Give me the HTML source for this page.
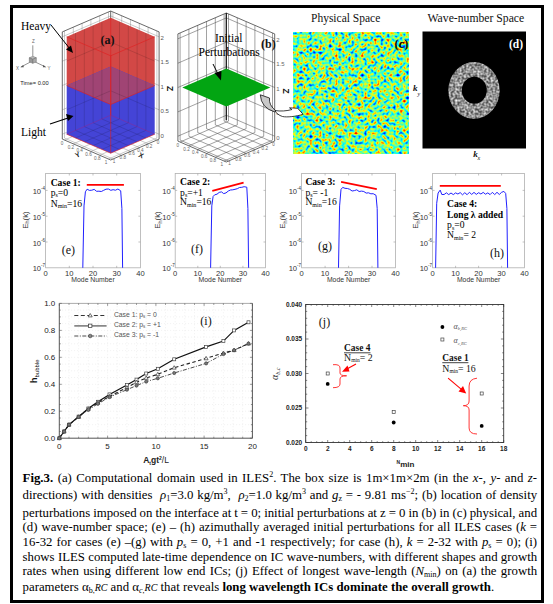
<!DOCTYPE html>
<html><head><meta charset="utf-8">
<style>
html,body{margin:0;padding:0;background:#fff;}
body{width:553px;height:604px;position:relative;overflow:hidden;font-family:"Liberation Serif",serif;}
#frame{position:absolute;left:10px;top:5px;width:534px;height:598px;border:3px solid #000;box-sizing:border-box;}
svg{position:absolute;left:0;top:0;}
.cap{position:absolute;left:22.6px;width:514.5px;font-size:12.8px;word-spacing:-1px;line-height:15px;height:15px;color:#000;text-align:justify;text-align-last:justify;white-space:nowrap;}
.cap i{font-style:italic;}
.cap sup{font-size:8px;vertical-align:5px;line-height:0;}
.cap sub{font-size:8px;vertical-align:-2px;line-height:0;}
</style></head><body>
<div id="frame"></div>
<svg width="553" height="604" viewBox="0 0 553 604">
<path d="M108.5 119.1L108.5 12M112.9 119.1L112.9 12M99.7 122.9L99.7 15.8M121.7 122.9L121.7 15.8M90.9 126.7L90.9 19.6M130.5 126.7L130.5 19.6M82.1 130.5L82.1 23.4M139.3 130.5L139.3 23.4M73.3 134.3L73.3 27.2M148.1 134.3L148.1 27.2M64.5 138.1L64.5 31M156.9 138.1L156.9 31M62.3 134.2L110.7 113.3L159.1 134.2M62.3 109.9L110.7 88.9L159.1 109.8M62.3 85.5L110.7 64.6L159.1 85.5M62.3 61.2L110.7 40.2L159.1 61.1M62.3 36.8L110.7 15.9L159.1 36.8M108.5 119.1L156.9 140M112.9 119.1L64.5 140M99.7 122.9L148.1 143.8M121.7 122.9L73.3 143.8M90.9 126.7L139.3 147.6M130.5 126.7L82.1 147.6M82.1 130.5L130.5 151.4M139.3 130.5L90.9 151.4M73.3 134.3L121.7 155.2M148.1 134.3L99.7 155.2M64.5 138.1L112.9 159M156.9 138.1L108.5 159" stroke="#888" stroke-width="0.45" fill="none"/>
<polyline points="62.3,31.9 110.7,11 159.1,31.9 159.1,139.1 110.7,160 62.3,139.1 62.3,31.9" stroke="#444" stroke-width="0.8" fill="none"/>
<line x1="110.7" y1="118.2" x2="110.7" y2="11" stroke="#444" stroke-width="0.8"/>
<polygon points="66.7,36.8 110.7,17.8 154.7,36.8 154.7,85.5 110.7,104.5 66.7,85.5" fill="#d24846"/>
<polygon points="66.7,85.5 110.7,66.5 154.7,85.5 154.7,134.2 110.7,153.2 66.7,134.2" fill="#4444d6"/>
<polygon points="66.7,85.5 110.7,66.5 154.7,85.5 110.7,104.5" fill="#a04474"/>
<path d="M101.9 119L101.9 21.6M119.5 119L119.5 21.6M93.1 122.8L93.1 25.4M128.3 122.8L128.3 25.4M84.3 126.6L84.3 29.2M137.1 126.6L137.1 29.2M75.5 130.4L75.5 33M145.9 130.4L145.9 33M66.7 109.8L110.7 90.8L154.7 109.8M66.7 61.1L110.7 42.1L154.7 61.1M101.9 119L145.9 138M119.5 119L75.5 138M93.1 122.8L137.1 141.8M128.3 122.8L84.3 141.8M84.3 126.6L128.3 145.6M137.1 126.6L93.1 145.6M75.5 130.4L119.5 149.4M145.9 130.4L101.9 149.4" stroke="#000" stroke-opacity="0.22" stroke-width="0.6" fill="none"/>
<path d="M110.7 115.2L110.7 17.8M66.7 36.8L110.7 55.8M110.7 55.8L154.7 36.8M66.7 85.5L110.7 104.5M110.7 104.5L154.7 85.5M66.7 134.2L110.7 153.2M110.7 153.2L154.7 134.2M110.7 153.2L110.7 55.8" stroke="#e02020" stroke-width="0.8" fill="none" stroke-opacity="0.8"/>
<path d="M66.7 134.2L110.7 115.2M110.7 115.2L154.7 134.2" stroke="#a02080" stroke-width="0.8" fill="none" stroke-opacity="0.5"/>
<g font-family="Liberation Sans" font-size="6" fill="#555">
<text x="160.6" y="40.1">2</text>
<text x="160.6" y="64.4">1.5</text>
<text x="160.6" y="88.8">1</text>
<text x="160.6" y="113.1">0.5</text>
<text x="160.6" y="137.5">0</text>
</g>
<text x="166.5" y="86" font-family="Liberation Sans" font-size="8.5" font-weight="bold" fill="#111" transform="rotate(90 166.5 86)">Z</text>
<text x="21" y="30" font-family="Liberation Serif" font-size="11.5" fill="#000">Heavy</text>
<text x="21" y="135.5" font-family="Liberation Serif" font-size="11.5" fill="#000">Light</text>
<text x="100.5" y="43.6" font-family="Liberation Serif" font-size="12" font-weight="bold" fill="#111">(a)</text>
<line x1="51" y1="25" x2="70" y2="49" stroke="#000" stroke-width="1"/>
<polygon points="73,53 66,49.5 71,45.5" fill="#000"/>
<line x1="50" y1="124" x2="68" y2="118" stroke="#000" stroke-width="1.2"/>
<polygon points="73.5,116 66,114 68,121" fill="#000"/>
<g stroke="#777" stroke-width="0.8" fill="none" transform="translate(0.8 0.3)"><line x1="32" y1="45" x2="32" y2="56"/><line x1="30" y1="61.5" x2="20.5" y2="66.5"/><line x1="34" y1="61.5" x2="44.5" y2="66.5"/></g>
<g stroke="#666" stroke-width="0.5" fill="#bbb" transform="translate(0.8 0.3)"><polygon points="28.5,57.5 32,56 35.5,57.5 32,59"/><polygon points="28.5,57.5 32,59 32,63 28.5,61.5" fill="#999"/><polygon points="35.5,57.5 32,59 32,63 35.5,61.5" fill="#aaa"/></g>
<g fill="#555" transform="translate(0.8 0.3)"><polygon points="19.5,67 22.5,64.6 23,67"/><polygon points="45.5,67 42.5,64.6 42,67"/></g>
<g font-family="Liberation Sans" font-size="4.5" fill="#666"><text x="32" y="43">Z</text><text x="16" y="69.5">X</text><text x="47.5" y="70">Y</text></g>
<text x="20.3" y="85.4" font-family="Liberation Sans" font-size="5.7" fill="#222">Time= 0.00</text>
<g font-family="Liberation Sans" font-size="4.6" fill="#666">
<text x="62.1" y="144.7" text-anchor="middle">0</text>
<text x="158" y="144" text-anchor="middle">0</text>
<text x="70.9" y="148.5" text-anchor="middle">0.2</text>
<text x="149.2" y="147.8" text-anchor="middle">0.2</text>
<text x="79.7" y="152.3" text-anchor="middle">0.4</text>
<text x="140.4" y="151.5" text-anchor="middle">0.4</text>
<text x="88.5" y="156.1" text-anchor="middle">0.6</text>
<text x="131.6" y="155.3" text-anchor="middle">0.6</text>
<text x="97.3" y="159.9" text-anchor="middle">0.8</text>
<text x="122.8" y="159.2" text-anchor="middle">0.8</text>
<text x="106.1" y="163.7" text-anchor="middle">1</text>
<text x="114" y="162.9" text-anchor="middle">1</text>
</g>
<g font-family="Liberation Sans" font-size="7" font-weight="bold" fill="#222"><text x="75" y="157" transform="rotate(-25 78 154)">Y</text><text x="139" y="158" transform="rotate(25 142 155)">X</text></g>
<path d="M224.1 121.1L224.1 14M228.5 121.1L228.5 14M215.3 124.9L215.3 17.8M237.3 124.9L237.3 17.8M206.5 128.7L206.5 21.6M246.1 128.7L246.1 21.6M197.7 132.5L197.7 25.4M254.9 132.5L254.9 25.4M188.9 136.3L188.9 29.2M263.7 136.3L263.7 29.2M180.1 140.1L180.1 33M272.5 140.1L272.5 33M177.9 136.2L226.3 115.3L274.7 136.2M177.9 111.9L226.3 90.9L274.7 111.8M177.9 87.5L226.3 66.6L274.7 87.5M177.9 63.2L226.3 42.2L274.7 63.1M177.9 38.8L226.3 17.9L274.7 38.8M224.1 121.1L272.5 142M228.5 121.1L180.1 142M215.3 124.9L263.7 145.8M237.3 124.9L188.9 145.8M206.5 128.7L254.9 149.6M246.1 128.7L197.7 149.6M197.7 132.5L246.1 153.4M254.9 132.5L206.5 153.4M188.9 136.3L237.3 157.2M263.7 136.3L215.3 157.2M180.1 140.1L228.5 161M272.5 140.1L224.1 161" stroke="#555" stroke-width="0.55" fill="none"/>
<polyline points="177.9,33.9 226.3,13 274.7,33.9 274.7,141.1 226.3,162 177.9,141.1 177.9,33.9" stroke="#444" stroke-width="0.8" fill="none"/>
<line x1="226.3" y1="120.2" x2="226.3" y2="13" stroke="#444" stroke-width="0.8"/>
<line x1="226.3" y1="13" x2="226.3" y2="120.2" stroke="#111" stroke-width="1.1"/>
<polygon points="182.3,87.5 226.3,68.5 270.3,87.5 226.3,106.5" fill="#02a512"/>
<g font-family="Liberation Sans" font-size="6" fill="#666">
<text x="276.2" y="42.1">2</text>
<text x="276.2" y="66.4">1.5</text>
<text x="276.2" y="90.8">1</text>
<text x="276.2" y="115.1">0.5</text>
<text x="276.2" y="139.5">0</text>
</g>
<g font-family="Liberation Sans" font-size="4.6" fill="#666">
<text x="177.7" y="146.7" text-anchor="middle">0</text>
<text x="273.6" y="146" text-anchor="middle">0</text>
<text x="186.5" y="150.5" text-anchor="middle">0.2</text>
<text x="264.8" y="149.8" text-anchor="middle">0.2</text>
<text x="195.3" y="154.3" text-anchor="middle">0.4</text>
<text x="256" y="153.5" text-anchor="middle">0.4</text>
<text x="204.1" y="158.1" text-anchor="middle">0.6</text>
<text x="247.2" y="157.3" text-anchor="middle">0.6</text>
<text x="212.9" y="161.9" text-anchor="middle">0.8</text>
<text x="238.4" y="161.2" text-anchor="middle">0.8</text>
<text x="221.7" y="165.7" text-anchor="middle">1</text>
<text x="229.6" y="164.9" text-anchor="middle">1</text>
</g>
<text x="21" y="30" font-family="Liberation Serif" font-size="11.5" fill="#000" transform="translate(0,0)"></text>
<text x="215" y="42" font-family="Liberation Serif" font-size="11.5" fill="#000">Initial</text>
<text x="198.5" y="55.5" font-family="Liberation Serif" font-size="11.5" fill="#000">Perturbations</text>
<text x="261" y="48" font-family="Liberation Serif" font-size="12" font-weight="bold" fill="#111">(b)</text>
<line x1="213" y1="64" x2="218" y2="74" stroke="#000" stroke-width="1"/>
<polygon points="221,80.5 214.5,73 221.5,71" fill="#000"/>
<text x="282.5" y="88.5" font-family="Liberation Sans" font-size="8.5" font-weight="bold" fill="#111" transform="rotate(90 282.5 88.5)">Z</text>
<text x="311" y="22" font-family="Liberation Serif" font-size="11.5" fill="#111">Physical Space</text>
<text x="427.5" y="22" font-family="Liberation Serif" font-size="11.7" fill="#111">Wave-number Space</text>
<defs>
<filter id="nz" x="0" y="0" width="100%" height="100%" filterUnits="objectBoundingBox" color-interpolation-filters="sRGB">
<feTurbulence type="fractalNoise" baseFrequency="0.31" numOctaves="1" seed="7" result="t"/>
<feColorMatrix in="t" type="matrix" values="1 0 0 0 0  1 0 0 0 0  1 0 0 0 0  0 0 0 0 1"/>
<feComponentTransfer>
<feFuncR type="table" tableValues="0.00 0.00 0.00 0.00 0.00 0.00 0.00 0.00 0.00 0.00 0.00 0.00 0.00 0.01 0.16 0.31 0.46 0.61 0.76 0.91 1.00 1.00 1.00 1.00 1.00 1.00 1.00 0.89 0.74 0.59 0.50 0.50 0.50"/>
<feFuncG type="table" tableValues="0.00 0.00 0.00 0.00 0.00 0.00 0.00 0.11 0.26 0.41 0.56 0.71 0.86 1.00 1.00 1.00 1.00 1.00 1.00 1.00 0.94 0.79 0.64 0.49 0.34 0.19 0.04 0.00 0.00 0.00 0.00 0.00 0.00"/>
<feFuncB type="table" tableValues="0.50 0.50 0.50 0.51 0.66 0.81 0.96 1.00 1.00 1.00 1.00 1.00 1.00 0.99 0.84 0.69 0.54 0.39 0.24 0.09 0.00 0.00 0.00 0.00 0.00 0.00 0.00 0.00 0.00 0.00 0.00 0.00 0.00"/>
</feComponentTransfer>
</filter>
<filter id="gn" x="0" y="0" width="100%" height="100%" filterUnits="objectBoundingBox" color-interpolation-filters="sRGB">
<feTurbulence type="fractalNoise" baseFrequency="0.45" numOctaves="1" seed="3" result="t"/>
<feColorMatrix in="t" type="matrix" values="1 0 0 0 0  1 0 0 0 0  1 0 0 0 0  0 0 0 0 1"/>
<feComponentTransfer><feFuncR type="linear" slope="1.2" intercept="-0.03"/><feFuncG type="linear" slope="1.2" intercept="-0.03"/><feFuncB type="linear" slope="1.2" intercept="-0.03"/></feComponentTransfer>
</filter>
<mask id="ring"><rect x="420" y="30" width="110" height="120" fill="#000"/><ellipse cx="474" cy="90.5" rx="25.7" ry="28.4" fill="#fff"/><ellipse cx="474.3" cy="90.2" rx="12.5" ry="13.5" fill="#000"/></mask>
</defs>
<rect x="293" y="32" width="116" height="122" fill="#80e0a0" filter="url(#nz)"/>
<text x="394.6" y="47.5" font-family="Liberation Serif" font-size="12.3" font-weight="bold" fill="#000">(c)</text>
<rect x="422.5" y="31.5" width="103.5" height="117" fill="#000"/>
<rect x="445" y="60" width="60" height="62" fill="#999" filter="url(#gn)" mask="url(#ring)"/>
<text x="509" y="47.7" font-family="Liberation Serif" font-size="11.5" font-weight="bold" fill="#fff">(d)</text>
<text x="413" y="91.2" font-family="Liberation Serif" font-size="9" font-style="italic" font-weight="bold" fill="#111">k</text><text x="417.5" y="95.5" font-family="Liberation Serif" font-size="6" font-style="italic" fill="#111">y</text>
<text x="473.3" y="157.3" font-family="Liberation Serif" font-size="9" font-style="italic" font-weight="bold" fill="#111">k</text><text x="477.5" y="160" font-family="Liberation Serif" font-size="6" font-style="italic" fill="#111">x</text>
<path d="M260.3 94.8 L269.5 98 Q268.5 105 276 111 L275 112 Q261 108 260.3 94.8 Z" fill="#c8c8c8" stroke="#111" stroke-width="0.8"/>
<path d="M275 110.5 C280 111.5 287 111 292 109.5 L289.5 107.8 L297.7 108.3 L303.1 114.3 C296 116.5 287 117.5 282.5 116.5 C279 115.5 276 113 275 110.5 Z" fill="#fff" stroke="#111" stroke-width="0.8"/>
<rect x="45.6" y="173.5" width="94.8" height="94.3" fill="none" stroke="#b0b0b0" stroke-width="0.8"/>
<path d="M45.6 190.4h2M140.4 190.4h-2M45.6 216.2h2M140.4 216.2h-2M45.6 242h2M140.4 242h-2M69.3 267.8v-2M69.3 173.5v2M93 267.8v-2M93 173.5v2M116.7 267.8v-2M116.7 173.5v2" stroke="#999" stroke-width="0.6"/>
<g font-family="Liberation Sans" font-size="7.6" fill="#333">
<text x="41.1" y="193.9" text-anchor="end">10</text><text x="41.1" y="189.9" font-size="4.5">-4</text>
<text x="41.1" y="219.7" text-anchor="end">10</text><text x="41.1" y="215.7" font-size="4.5">-5</text>
<text x="41.1" y="245.5" text-anchor="end">10</text><text x="41.1" y="241.5" font-size="4.5">-6</text>
<text x="41.1" y="271.3" text-anchor="end">10</text><text x="41.1" y="267.3" font-size="4.5">-7</text>
<text x="45.6" y="275.5" text-anchor="middle">0</text>
<text x="69.3" y="275.5" text-anchor="middle">10</text>
<text x="93" y="275.5" text-anchor="middle">20</text>
<text x="116.7" y="275.5" text-anchor="middle">30</text>
<text x="140.4" y="275.5" text-anchor="middle">40</text>
<text x="93" y="281.8" text-anchor="middle" font-size="6.85">Mode Number</text>
</g>
<g transform="translate(27.5 220) rotate(-90)" font-family="Liberation Sans" fill="#333"><text x="0" y="0" font-size="7.8" text-anchor="middle">E<tspan font-size="5.5" dy="1.8">h</tspan><tspan dy="-1.8">(k)</tspan></text></g>
<line x1="86.8" y1="184.8" x2="123.9" y2="184.8" stroke="#ff0000" stroke-width="1.8"/>
<polyline points="82.8,267.8 84,205.9 85.4,191.8 87.1,189.2 89.4,190.4 91.8,190.2 94.2,189.4 96.6,191.3 98.9,191.2 101.3,191.5 103.7,190.3 106,189.2 108.4,189 110.8,190.3 113.1,189.7 115.5,190.2 117.9,189 120.7,190.8 121.9,208.5 122.6,267.8" fill="none" stroke="#2020ff" stroke-width="1"/>
<text x="50.7" y="185.6" font-family="Liberation Serif" font-size="9.6" font-weight="bold">Case 1:</text>
<text x="50.7" y="195.8" font-family="Liberation Serif" font-size="9.6">p<tspan font-size="6" dy="1.5">s</tspan><tspan dy="-1.5">=0</tspan></text>
<text x="50.7" y="206.5" font-family="Liberation Serif" font-size="9.6">N<tspan font-size="6" dy="1.5">min</tspan><tspan dy="-1.5">=16</tspan></text>
<text x="61.8" y="254" font-family="Liberation Serif" font-size="12" fill="#111">(e)</text>
<rect x="175.2" y="173.5" width="90.3" height="94.3" fill="none" stroke="#b0b0b0" stroke-width="0.8"/>
<path d="M175.2 190.4h2M265.5 190.4h-2M175.2 216.2h2M265.5 216.2h-2M175.2 242h2M265.5 242h-2M197.8 267.8v-2M197.8 173.5v2M220.3 267.8v-2M220.3 173.5v2M242.9 267.8v-2M242.9 173.5v2" stroke="#999" stroke-width="0.6"/>
<g font-family="Liberation Sans" font-size="7.6" fill="#333">
<text x="170.7" y="193.9" text-anchor="end">10</text><text x="170.7" y="189.9" font-size="4.5">-4</text>
<text x="170.7" y="219.7" text-anchor="end">10</text><text x="170.7" y="215.7" font-size="4.5">-5</text>
<text x="170.7" y="245.5" text-anchor="end">10</text><text x="170.7" y="241.5" font-size="4.5">-6</text>
<text x="170.7" y="271.3" text-anchor="end">10</text><text x="170.7" y="267.3" font-size="4.5">-7</text>
<text x="175.2" y="275.5" text-anchor="middle">0</text>
<text x="197.8" y="275.5" text-anchor="middle">10</text>
<text x="220.3" y="275.5" text-anchor="middle">20</text>
<text x="242.9" y="275.5" text-anchor="middle">30</text>
<text x="265.5" y="275.5" text-anchor="middle">40</text>
<text x="220.3" y="281.8" text-anchor="middle" font-size="6.85">Mode Number</text>
</g>
<g transform="translate(160 220) rotate(-90)" font-family="Liberation Sans" fill="#333"><text x="0" y="0" font-size="7.8" text-anchor="middle">E<tspan font-size="5.5" dy="1.8">h</tspan><tspan dy="-1.8">(k)</tspan></text></g>
<line x1="212.3" y1="190.9" x2="243.6" y2="182.6" stroke="#ff0000" stroke-width="1.8"/>
<polyline points="210.6,267.8 211.8,205.9 213.1,196.5 214.7,194.8 217,194.2 219.2,192.4 221.5,191.9 223.7,193.6 226,192.9 228.3,191 230.5,190 232.8,189.8 235,189.3 237.3,188.7 239.5,187.5 241.8,187.3 244.1,186.7 246.8,187.2 247.9,208.5 248.6,267.8" fill="none" stroke="#2020ff" stroke-width="1"/>
<text x="180.1" y="185" font-family="Liberation Serif" font-size="9.6" font-weight="bold">Case 2:</text>
<text x="180.1" y="195.6" font-family="Liberation Serif" font-size="9.6">p<tspan font-size="6" dy="1.5">s</tspan><tspan dy="-1.5">=+1</tspan></text>
<text x="180.1" y="205.4" font-family="Liberation Serif" font-size="9.6">N<tspan font-size="6" dy="1.5">min</tspan><tspan dy="-1.5">=16</tspan></text>
<text x="191" y="253" font-family="Liberation Serif" font-size="12" fill="#111">(f)</text>
<rect x="301.6" y="173.5" width="93.9" height="94.3" fill="none" stroke="#b0b0b0" stroke-width="0.8"/>
<path d="M301.6 190.4h2M395.5 190.4h-2M301.6 216.2h2M395.5 216.2h-2M301.6 242h2M395.5 242h-2M325.1 267.8v-2M325.1 173.5v2M348.6 267.8v-2M348.6 173.5v2M372 267.8v-2M372 173.5v2" stroke="#999" stroke-width="0.6"/>
<g font-family="Liberation Sans" font-size="7.6" fill="#333">
<text x="297.1" y="193.9" text-anchor="end">10</text><text x="297.1" y="189.9" font-size="4.5">-4</text>
<text x="297.1" y="219.7" text-anchor="end">10</text><text x="297.1" y="215.7" font-size="4.5">-5</text>
<text x="297.1" y="245.5" text-anchor="end">10</text><text x="297.1" y="241.5" font-size="4.5">-6</text>
<text x="297.1" y="271.3" text-anchor="end">10</text><text x="297.1" y="267.3" font-size="4.5">-7</text>
<text x="301.6" y="275.5" text-anchor="middle">0</text>
<text x="325.1" y="275.5" text-anchor="middle">10</text>
<text x="348.6" y="275.5" text-anchor="middle">20</text>
<text x="372" y="275.5" text-anchor="middle">30</text>
<text x="395.5" y="275.5" text-anchor="middle">40</text>
<text x="348.6" y="281.8" text-anchor="middle" font-size="6.85">Mode Number</text>
</g>
<g transform="translate(285 220) rotate(-90)" font-family="Liberation Sans" fill="#333"><text x="0" y="0" font-size="7.8" text-anchor="middle">E<tspan font-size="5.5" dy="1.8">h</tspan><tspan dy="-1.8">(k)</tspan></text></g>
<line x1="341.1" y1="181.9" x2="376.8" y2="189.2" stroke="#ff0000" stroke-width="1.8"/>
<polyline points="338.5,267.8 339.6,205.9 341,189.4 342.7,187.4 345,188.3 347.4,188.5 349.7,189.3 352.1,191 354.4,190.6 356.8,189.8 359.1,191.5 361.5,191.1 363.8,191.5 366.2,193.1 368.5,192.8 370.9,193.8 373.2,193.7 376,195.3 377.2,208.5 377.9,267.8" fill="none" stroke="#2020ff" stroke-width="1"/>
<text x="305.4" y="185" font-family="Liberation Serif" font-size="9.6" font-weight="bold">Case 3:</text>
<text x="305.4" y="195.6" font-family="Liberation Serif" font-size="9.6">p<tspan font-size="6" dy="1.5">s</tspan><tspan dy="-1.5">= -1</tspan></text>
<text x="305.4" y="205.4" font-family="Liberation Serif" font-size="9.6">N<tspan font-size="6" dy="1.5">min</tspan><tspan dy="-1.5">=16</tspan></text>
<text x="318" y="249.6" font-family="Liberation Serif" font-size="12" fill="#111">(g)</text>
<rect x="432.6" y="173.5" width="92" height="94.3" fill="none" stroke="#b0b0b0" stroke-width="0.8"/>
<path d="M432.6 190.4h2M524.6 190.4h-2M432.6 216.2h2M524.6 216.2h-2M432.6 242h2M524.6 242h-2M455.6 267.8v-2M455.6 173.5v2M478.6 267.8v-2M478.6 173.5v2M501.6 267.8v-2M501.6 173.5v2" stroke="#999" stroke-width="0.6"/>
<g font-family="Liberation Sans" font-size="7.6" fill="#333">
<text x="428.1" y="193.9" text-anchor="end">10</text><text x="428.1" y="189.9" font-size="4.5">-4</text>
<text x="428.1" y="219.7" text-anchor="end">10</text><text x="428.1" y="215.7" font-size="4.5">-5</text>
<text x="428.1" y="245.5" text-anchor="end">10</text><text x="428.1" y="241.5" font-size="4.5">-6</text>
<text x="428.1" y="271.3" text-anchor="end">10</text><text x="428.1" y="267.3" font-size="4.5">-7</text>
<text x="432.6" y="275.5" text-anchor="middle">0</text>
<text x="455.6" y="275.5" text-anchor="middle">10</text>
<text x="478.6" y="275.5" text-anchor="middle">20</text>
<text x="501.6" y="275.5" text-anchor="middle">30</text>
<text x="524.6" y="275.5" text-anchor="middle">40</text>
<text x="478.6" y="281.8" text-anchor="middle" font-size="6.85">Mode Number</text>
</g>
<g transform="translate(417.7 220) rotate(-90)" font-family="Liberation Sans" fill="#333"><text x="0" y="0" font-size="7.8" text-anchor="middle">E<tspan font-size="5.5" dy="1.8">h</tspan><tspan dy="-1.8">(k)</tspan></text></g>
<line x1="439.8" y1="185.8" x2="500.8" y2="185.8" stroke="#ff0000" stroke-width="1.8"/>
<polyline points="435.6,267.8 436.7,203.3 438.1,193 440.2,190.1 441.8,194.5 444.1,194.5 446.4,192.8 448.7,194.6 451,193 453.3,194.6 455.6,192.9 457.9,194 460.2,192.6 462.5,194.8 464.8,192.7 467.1,194.7 469.4,192.3 471.7,194.4 474,192.4 476.3,194.4 478.6,192.7 480.9,194 483.2,192.4 485.5,194.2 487.8,192.9 490.1,194.6 492.4,192.3 494.7,194.6 497,192.3 499.3,194.5 501.6,192.3 503.9,191.4 505.7,193.5 506.9,208.5 507.6,267.8" fill="none" stroke="#2020ff" stroke-width="1"/>
<text x="447.1" y="206.5" font-family="Liberation Serif" font-size="9.6" font-weight="bold">Case 4:</text>
<text x="447.1" y="218.2" font-family="Liberation Serif" font-size="9.6" font-weight="bold">Long λ added</text>
<text x="447.1" y="228" font-family="Liberation Serif" font-size="9.6">p<tspan font-size="6" dy="1.5">s</tspan><tspan dy="-1.5">=0</tspan></text>
<text x="447.1" y="238.2" font-family="Liberation Serif" font-size="9.6">N<tspan font-size="6" dy="1.5">min</tspan><tspan dy="-1.5">= 2</tspan></text>
<text x="490" y="256.5" font-family="Liberation Serif" font-size="12" fill="#111">(h)</text>
<path d="M69 303.4V438.2M78.6 303.4V438.2M88.3 303.4V438.2M97.9 303.4V438.2M107.6 303.4V438.2M117.2 303.4V438.2M126.9 303.4V438.2M136.5 303.4V438.2M146.2 303.4V438.2M155.9 303.4V438.2M165.5 303.4V438.2M175.2 303.4V438.2M184.8 303.4V438.2M194.5 303.4V438.2M204.1 303.4V438.2M213.8 303.4V438.2M223.4 303.4V438.2M233.1 303.4V438.2M242.7 303.4V438.2M59.3 431.5H252.4M59.3 424.7H252.4M59.3 418H252.4M59.3 411.2H252.4M59.3 404.5H252.4M59.3 397.8H252.4M59.3 391H252.4M59.3 384.3H252.4M59.3 377.5H252.4M59.3 370.8H252.4M59.3 364.1H252.4M59.3 357.3H252.4M59.3 350.6H252.4M59.3 343.8H252.4M59.3 337.1H252.4M59.3 330.4H252.4M59.3 323.6H252.4M59.3 316.9H252.4M59.3 310.1H252.4" stroke="#dadada" stroke-width="0.5" stroke-dasharray="0.8 2.2" fill="none"/>
<path d="M59.3 303.4V438.2H252.4V303.4" stroke="#555" stroke-width="1" fill="none"/>
<line x1="59.3" y1="303.4" x2="252.4" y2="303.4" stroke="#888" stroke-width="0.7"/>
<path d="M59.3 438.2v-2.5M59.3 303.4v2.5M69 438.2v-1.5M69 303.4v1.5M78.6 438.2v-1.5M78.6 303.4v1.5M88.3 438.2v-1.5M88.3 303.4v1.5M97.9 438.2v-1.5M97.9 303.4v1.5M107.6 438.2v-2.5M107.6 303.4v2.5M117.2 438.2v-1.5M117.2 303.4v1.5M126.9 438.2v-1.5M126.9 303.4v1.5M136.5 438.2v-1.5M136.5 303.4v1.5M146.2 438.2v-1.5M146.2 303.4v1.5M155.9 438.2v-2.5M155.9 303.4v2.5M165.5 438.2v-1.5M165.5 303.4v1.5M175.2 438.2v-1.5M175.2 303.4v1.5M184.8 438.2v-1.5M184.8 303.4v1.5M194.5 438.2v-1.5M194.5 303.4v1.5M204.1 438.2v-2.5M204.1 303.4v2.5M213.8 438.2v-1.5M213.8 303.4v1.5M223.4 438.2v-1.5M223.4 303.4v1.5M233.1 438.2v-1.5M233.1 303.4v1.5M242.7 438.2v-1.5M242.7 303.4v1.5M252.4 438.2v-2.5M252.4 303.4v2.5M59.3 438.2h2.5M252.4 438.2h-2.5M59.3 431.5h1.5M252.4 431.5h-1.5M59.3 424.7h1.5M252.4 424.7h-1.5M59.3 418h1.5M252.4 418h-1.5M59.3 411.2h2.5M252.4 411.2h-2.5M59.3 404.5h1.5M252.4 404.5h-1.5M59.3 397.8h1.5M252.4 397.8h-1.5M59.3 391h1.5M252.4 391h-1.5M59.3 384.3h2.5M252.4 384.3h-2.5M59.3 377.5h1.5M252.4 377.5h-1.5M59.3 370.8h1.5M252.4 370.8h-1.5M59.3 364.1h1.5M252.4 364.1h-1.5M59.3 357.3h2.5M252.4 357.3h-2.5M59.3 350.6h1.5M252.4 350.6h-1.5M59.3 343.8h1.5M252.4 343.8h-1.5M59.3 337.1h1.5M252.4 337.1h-1.5M59.3 330.4h2.5M252.4 330.4h-2.5M59.3 323.6h1.5M252.4 323.6h-1.5M59.3 316.9h1.5M252.4 316.9h-1.5M59.3 310.1h1.5M252.4 310.1h-1.5M59.3 303.4h2.5M252.4 303.4h-2.5" stroke="#555" stroke-width="0.6" fill="none"/>
<g font-family="Liberation Sans" font-size="8" fill="#222">
<text x="55.3" y="441" text-anchor="end">0.0</text>
<text x="55.3" y="414" text-anchor="end">0.2</text>
<text x="55.3" y="387.1" text-anchor="end">0.4</text>
<text x="55.3" y="360.1" text-anchor="end">0.6</text>
<text x="55.3" y="333.2" text-anchor="end">0.8</text>
<text x="55.3" y="306.2" text-anchor="end">1.0</text>
<text x="59.3" y="448.7" text-anchor="middle">0</text>
<text x="107.6" y="448.7" text-anchor="middle">5</text>
<text x="155.9" y="448.7" text-anchor="middle">10</text>
<text x="204.1" y="448.7" text-anchor="middle">15</text>
<text x="252.4" y="448.7" text-anchor="middle">20</text>
</g>
<text x="143.2" y="463.2" font-family="Liberation Sans" font-size="8.5" font-weight="bold" fill="#222">A<tspan font-size="5" dy="2">t</tspan><tspan dy="-2">gt</tspan><tspan font-size="5" dy="-3.5">2</tspan><tspan dy="3.5" font-weight="normal">/L</tspan></text>
<g transform="translate(36.5 383) rotate(-90)"><text x="0" y="0" font-family="Liberation Sans" font-size="9" font-weight="bold" fill="#111">h<tspan font-size="6" dy="2" font-weight="normal">bubble</tspan></text></g>
<polyline points="59.3,438.2 64.1,431.5 69,424.7 78.6,416.9 88.3,408.8 97.9,402.7 109.5,396.4 126.9,387.6 136.5,382.3 146.2,377.9 157.8,374.3 174.2,367.7 206.1,358.4 223.4,353 234.1,350.2 248.5,343.6" fill="none" stroke="#222" stroke-width="1.1" stroke-dasharray="3.5 2.5"/>
<polyline points="59.3,438.2 64.1,431.5 69,424.7 78.6,416.9 88.3,409.9 97.9,403.8 109.5,397.1 126.9,389.7 136.5,385.6 146.2,381.6 157.8,378.3 174.2,373 206.1,363.4 223.4,354.1 234.1,350.2 248.5,343.6" fill="none" stroke="#222" stroke-width="0.8" stroke-dasharray="4 1.5 1 1.5"/>
<polyline points="59.3,438.2 64.1,431.5 69,424.7 78.6,416.6 88.3,408.5 97.9,401.8 109.5,394.4 126.9,385 136.5,379.6 146.2,373.5 157.8,368.8 174.2,359.3 206.1,346.9 223.4,341.1 234.1,330.4 248.5,322.3" fill="none" stroke="#111" stroke-width="1.2"/>
<rect x="57.8" y="436.7" width="3" height="3" fill="#fff" stroke="#444" stroke-width="0.7"/>
<rect x="62.6" y="430" width="3" height="3" fill="#fff" stroke="#444" stroke-width="0.7"/>
<rect x="67.5" y="423.2" width="3" height="3" fill="#fff" stroke="#444" stroke-width="0.7"/>
<rect x="77.1" y="415.1" width="3" height="3" fill="#fff" stroke="#444" stroke-width="0.7"/>
<rect x="86.8" y="407" width="3" height="3" fill="#fff" stroke="#444" stroke-width="0.7"/>
<rect x="96.4" y="400.3" width="3" height="3" fill="#fff" stroke="#444" stroke-width="0.7"/>
<rect x="108" y="392.9" width="3" height="3" fill="#fff" stroke="#444" stroke-width="0.7"/>
<rect x="125.4" y="383.5" width="3" height="3" fill="#fff" stroke="#444" stroke-width="0.7"/>
<rect x="135" y="378.1" width="3" height="3" fill="#fff" stroke="#444" stroke-width="0.7"/>
<rect x="144.7" y="372" width="3" height="3" fill="#fff" stroke="#444" stroke-width="0.7"/>
<rect x="156.3" y="367.3" width="3" height="3" fill="#fff" stroke="#444" stroke-width="0.7"/>
<rect x="172.7" y="357.8" width="3" height="3" fill="#fff" stroke="#444" stroke-width="0.7"/>
<rect x="204.6" y="345.4" width="3" height="3" fill="#fff" stroke="#444" stroke-width="0.7"/>
<rect x="221.9" y="339.6" width="3" height="3" fill="#fff" stroke="#444" stroke-width="0.7"/>
<rect x="232.6" y="328.9" width="3" height="3" fill="#fff" stroke="#444" stroke-width="0.7"/>
<rect x="247" y="320.8" width="3" height="3" fill="#fff" stroke="#444" stroke-width="0.7"/>
<polygon points="59.3,436.2 61.3,439.6 57.3,439.6" fill="#fff" stroke="#333" stroke-width="0.7"/>
<polygon points="64.1,429.5 66.1,432.9 62.1,432.9" fill="#fff" stroke="#333" stroke-width="0.7"/>
<polygon points="69,422.7 71,426.1 67,426.1" fill="#fff" stroke="#333" stroke-width="0.7"/>
<polygon points="78.6,414.9 80.6,418.3 76.6,418.3" fill="#fff" stroke="#333" stroke-width="0.7"/>
<polygon points="88.3,406.8 90.3,410.2 86.3,410.2" fill="#fff" stroke="#333" stroke-width="0.7"/>
<polygon points="97.9,400.7 99.9,404.1 95.9,404.1" fill="#fff" stroke="#333" stroke-width="0.7"/>
<polygon points="109.5,394.4 111.5,397.8 107.5,397.8" fill="#fff" stroke="#333" stroke-width="0.7"/>
<polygon points="126.9,385.6 128.9,389 124.9,389" fill="#fff" stroke="#333" stroke-width="0.7"/>
<polygon points="136.5,380.3 138.5,383.7 134.5,383.7" fill="#fff" stroke="#333" stroke-width="0.7"/>
<polygon points="146.2,375.9 148.2,379.3 144.2,379.3" fill="#fff" stroke="#333" stroke-width="0.7"/>
<polygon points="157.8,372.3 159.8,375.7 155.8,375.7" fill="#fff" stroke="#333" stroke-width="0.7"/>
<polygon points="174.2,365.7 176.2,369.1 172.2,369.1" fill="#fff" stroke="#333" stroke-width="0.7"/>
<polygon points="206.1,356.4 208.1,359.8 204.1,359.8" fill="#fff" stroke="#333" stroke-width="0.7"/>
<polygon points="223.4,351 225.4,354.4 221.4,354.4" fill="#fff" stroke="#333" stroke-width="0.7"/>
<polygon points="234.1,348.2 236.1,351.6 232.1,351.6" fill="#fff" stroke="#333" stroke-width="0.7"/>
<polygon points="248.5,341.6 250.5,345 246.5,345" fill="#fff" stroke="#333" stroke-width="0.7"/>
<circle cx="59.3" cy="438.2" r="1.6" fill="#777" stroke="#333" stroke-width="0.6"/>
<circle cx="64.1" cy="431.5" r="1.6" fill="#777" stroke="#333" stroke-width="0.6"/>
<circle cx="69" cy="424.7" r="1.6" fill="#777" stroke="#333" stroke-width="0.6"/>
<circle cx="78.6" cy="416.9" r="1.6" fill="#777" stroke="#333" stroke-width="0.6"/>
<circle cx="88.3" cy="409.9" r="1.6" fill="#777" stroke="#333" stroke-width="0.6"/>
<circle cx="97.9" cy="403.8" r="1.6" fill="#777" stroke="#333" stroke-width="0.6"/>
<circle cx="109.5" cy="397.1" r="1.6" fill="#777" stroke="#333" stroke-width="0.6"/>
<circle cx="126.9" cy="389.7" r="1.6" fill="#777" stroke="#333" stroke-width="0.6"/>
<circle cx="136.5" cy="385.6" r="1.6" fill="#777" stroke="#333" stroke-width="0.6"/>
<circle cx="146.2" cy="381.6" r="1.6" fill="#777" stroke="#333" stroke-width="0.6"/>
<circle cx="157.8" cy="378.3" r="1.6" fill="#777" stroke="#333" stroke-width="0.6"/>
<circle cx="174.2" cy="373" r="1.6" fill="#777" stroke="#333" stroke-width="0.6"/>
<circle cx="206.1" cy="363.4" r="1.6" fill="#777" stroke="#333" stroke-width="0.6"/>
<circle cx="223.4" cy="354.1" r="1.6" fill="#777" stroke="#333" stroke-width="0.6"/>
<circle cx="234.1" cy="350.2" r="1.6" fill="#777" stroke="#333" stroke-width="0.6"/>
<circle cx="248.5" cy="343.6" r="1.6" fill="#777" stroke="#333" stroke-width="0.6"/>
<line x1="74.3" y1="315.5" x2="106.6" y2="315.5" stroke="#333" stroke-width="1" stroke-dasharray="4 2.5"/>
<polygon points="90.2,313.5 92.2,316.9 88.2,316.9" fill="#fff" stroke="#333" stroke-width="0.7"/>
<line x1="74.3" y1="325.8" x2="106.6" y2="325.8" stroke="#888" stroke-width="1.7"/>
<rect x="88.5" y="324.1" width="3.4" height="3.4" fill="#fff" stroke="#333" stroke-width="0.7"/>
<line x1="74.3" y1="336" x2="106.6" y2="336" stroke="#888" stroke-width="1.4" stroke-dasharray="4 1.5 1 1.5"/>
<circle cx="90.2" cy="336" r="1.8" fill="#888" stroke="#333" stroke-width="0.6"/>
<g font-family="Liberation Sans" font-size="6.8" fill="#555">
<text x="113.9" y="316.6">Case 1: p<tspan font-size="4.5" dy="1.5">s</tspan><tspan dy="-1.5"> =  0</tspan></text>
<text x="113.9" y="326.8">Case 2: p<tspan font-size="4.5" dy="1.5">s</tspan><tspan dy="-1.5"> = +1</tspan></text>
<text x="113.9" y="336.9">Case 3: p<tspan font-size="4.5" dy="1.5">s</tspan><tspan dy="-1.5"> =  -1</tspan></text>
</g>
<text x="200.3" y="325" font-family="Liberation Serif" font-size="12" fill="#111">(i)</text>
<rect x="305.7" y="304.5" width="198" height="138" fill="none" stroke="#333" stroke-width="0.9"/>
<path d="M305.7 442.5v-2.5M305.7 304.5v2.5M311.2 442.5v-1.3M311.2 304.5v1.3M316.7 442.5v-1.3M316.7 304.5v1.3M322.2 442.5v-1.3M322.2 304.5v1.3M327.7 442.5v-2.5M327.7 304.5v2.5M333.2 442.5v-1.3M333.2 304.5v1.3M338.7 442.5v-1.3M338.7 304.5v1.3M344.2 442.5v-1.3M344.2 304.5v1.3M349.7 442.5v-2.5M349.7 304.5v2.5M355.2 442.5v-1.3M355.2 304.5v1.3M360.7 442.5v-1.3M360.7 304.5v1.3M366.2 442.5v-1.3M366.2 304.5v1.3M371.7 442.5v-2.5M371.7 304.5v2.5M377.2 442.5v-1.3M377.2 304.5v1.3M382.7 442.5v-1.3M382.7 304.5v1.3M388.2 442.5v-1.3M388.2 304.5v1.3M393.7 442.5v-2.5M393.7 304.5v2.5M399.2 442.5v-1.3M399.2 304.5v1.3M404.7 442.5v-1.3M404.7 304.5v1.3M410.2 442.5v-1.3M410.2 304.5v1.3M415.7 442.5v-2.5M415.7 304.5v2.5M421.2 442.5v-1.3M421.2 304.5v1.3M426.7 442.5v-1.3M426.7 304.5v1.3M432.2 442.5v-1.3M432.2 304.5v1.3M437.7 442.5v-2.5M437.7 304.5v2.5M443.2 442.5v-1.3M443.2 304.5v1.3M448.7 442.5v-1.3M448.7 304.5v1.3M454.2 442.5v-1.3M454.2 304.5v1.3M459.7 442.5v-2.5M459.7 304.5v2.5M465.2 442.5v-1.3M465.2 304.5v1.3M470.7 442.5v-1.3M470.7 304.5v1.3M476.2 442.5v-1.3M476.2 304.5v1.3M481.7 442.5v-2.5M481.7 304.5v2.5M487.2 442.5v-1.3M487.2 304.5v1.3M492.7 442.5v-1.3M492.7 304.5v1.3M498.2 442.5v-1.3M498.2 304.5v1.3M503.7 442.5v-2.5M503.7 304.5v2.5M305.7 442.5h2.8M503.7 442.5h-2.8M305.7 435.6h1.5M503.7 435.6h-1.5M305.7 428.7h1.5M503.7 428.7h-1.5M305.7 421.8h1.5M503.7 421.8h-1.5M305.7 414.9h1.5M503.7 414.9h-1.5M305.7 408h2.8M503.7 408h-2.8M305.7 401.1h1.5M503.7 401.1h-1.5M305.7 394.2h1.5M503.7 394.2h-1.5M305.7 387.3h1.5M503.7 387.3h-1.5M305.7 380.4h1.5M503.7 380.4h-1.5M305.7 373.5h2.8M503.7 373.5h-2.8M305.7 366.6h1.5M503.7 366.6h-1.5M305.7 359.7h1.5M503.7 359.7h-1.5M305.7 352.8h1.5M503.7 352.8h-1.5M305.7 345.9h1.5M503.7 345.9h-1.5M305.7 339h2.8M503.7 339h-2.8M305.7 332.1h1.5M503.7 332.1h-1.5M305.7 325.2h1.5M503.7 325.2h-1.5M305.7 318.3h1.5M503.7 318.3h-1.5M305.7 311.4h1.5M503.7 311.4h-1.5M305.7 304.5h2.8M503.7 304.5h-2.8" stroke="#333" stroke-width="0.6" fill="none"/>
<g font-family="Liberation Sans" font-size="6.5" font-weight="bold" fill="#222">
<text x="302.2" y="444.8" text-anchor="end">0.020</text>
<text x="302.2" y="410.3" text-anchor="end">0.025</text>
<text x="302.2" y="375.8" text-anchor="end">0.030</text>
<text x="302.2" y="341.3" text-anchor="end">0.035</text>
<text x="302.2" y="306.8" text-anchor="end">0.040</text>
<text x="305.7" y="451.3" text-anchor="middle">0</text>
<text x="327.7" y="451.3" text-anchor="middle">2</text>
<text x="349.7" y="451.3" text-anchor="middle">4</text>
<text x="371.7" y="451.3" text-anchor="middle">6</text>
<text x="393.7" y="451.3" text-anchor="middle">8</text>
<text x="415.7" y="451.3" text-anchor="middle">10</text>
<text x="437.7" y="451.3" text-anchor="middle">12</text>
<text x="459.7" y="451.3" text-anchor="middle">14</text>
<text x="481.7" y="451.3" text-anchor="middle">16</text>
<text x="503.7" y="451.3" text-anchor="middle">18</text>
</g>
<text x="396.5" y="466.8" font-family="Liberation Sans" font-size="8" font-weight="bold" fill="#222"><tspan font-size="5" dy="-3">N</tspan><tspan dy="3">min</tspan></text>
<g transform="translate(278.3 380) rotate(-90)"><text x="0" y="0" font-family="Liberation Serif" font-size="10" font-style="italic" fill="#222">α<tspan font-size="6" dy="1.5">b,c</tspan></text></g>
<rect x="326.2" y="372" width="3" height="3" fill="#fff" stroke="#444" stroke-width="0.7"/>
<rect x="392.2" y="410.6" width="3" height="3" fill="#fff" stroke="#444" stroke-width="0.7"/>
<rect x="480.2" y="392" width="3" height="3" fill="#fff" stroke="#444" stroke-width="0.7"/>
<circle cx="327.7" cy="383.9" r="1.9" fill="#000"/>
<circle cx="393.7" cy="422.5" r="1.9" fill="#000"/>
<circle cx="481.7" cy="425.9" r="1.9" fill="#000"/>
<circle cx="442.4" cy="327" r="1.9" fill="#000"/>
<rect x="440.9" y="338" width="3" height="3" fill="#fff" stroke="#444" stroke-width="0.7"/>
<g font-family="Liberation Serif" font-size="8" font-style="italic" fill="#555"><text x="453.6" y="328.7">α<tspan font-size="4.5" dy="1.5">b,RC</tspan></text><text x="453.6" y="343.3">α<tspan font-size="4.5" dy="1.5">c,RC</tspan></text></g>
<text x="318.8" y="326.3" font-family="Liberation Serif" font-size="12" fill="#111">(j)</text>
<text x="344.1" y="350.8" font-family="Liberation Serif" font-size="9.4" font-weight="bold" fill="#111">Case 4</text>
<line x1="344" y1="352.8" x2="370.5" y2="352.8" stroke="#111" stroke-width="0.8"/>
<text x="344.1" y="360.6" font-family="Liberation Serif" font-size="9.8" fill="#111">N<tspan font-size="5.5" dy="1.5">min</tspan><tspan dy="-1.5">= 2</tspan></text>
<text x="442.3" y="360.9" font-family="Liberation Serif" font-size="9.4" font-weight="bold" fill="#111">Case 1</text>
<line x1="442.3" y1="362.7" x2="468.4" y2="362.7" stroke="#111" stroke-width="0.8"/>
<text x="442.3" y="371.7" font-family="Liberation Serif" font-size="9.8" fill="#111">N<tspan font-size="5.5" dy="1.5">min</tspan><tspan dy="-1.5">= 16</tspan></text>
<path d="M333 364.7 Q340 364 340 368 V373 Q340 375.8 346.6 375.8 Q340 375.8 340 379 V384 Q340 387.7 333 387.7" fill="none" stroke="#ff2020" stroke-width="0.9"/>
<path d="M477 378.2 Q469.1 379 469.1 386 V401 Q469.1 405.7 463.3 405.7 Q469.1 405.7 469.1 410 V428 Q469.1 434 477 434" fill="none" stroke="#ff2020" stroke-width="0.9"/>
<line x1="356" y1="364" x2="346" y2="369.5" stroke="#ff0000" stroke-width="1.1"/>
<polygon points="342,371.7 347.5,365.5 349.5,371.5" fill="#ff0000"/>
<line x1="448.1" y1="378.2" x2="462" y2="389.8" stroke="#ff0000" stroke-width="1.1"/>
<polygon points="466.2,393.4 458.5,391.5 463,386" fill="#ff0000"/>
</svg>
<div class="cap" style="top:471px"><b>Fig.3.</b> (a) Computational domain used in ILES<sup>2</sup>. The box size is 1m×1m×2m (in the <i>x</i>-, <i>y</i>- and <i>z</i>-</div>
<div class="cap" style="top:487.5px">directions) with densities &nbsp;<i>ρ</i><sub>1</sub>=3.0 kg/m<sup>3</sup>, &nbsp;<i>ρ</i><sub>2</sub>=1.0 kg/m<sup>3</sup> and <i>g</i><sub>z</sub> = - 9.81 ms<sup>−2</sup>; (b) location of density</div>
<div class="cap" style="top:506px">perturbations imposed on the interface at t = 0; initial perturbations at z = 0 in (b) in (c) physical, and</div>
<div class="cap" style="top:520px">(d) wave-number space; (e) – (h) azimuthally averaged initial perturbations for all ILES cases (<i>k</i> =</div>
<div class="cap" style="top:535px">16-32 for cases (e) –(g) with <i>p</i><sub>s</sub> = 0, +1 and -1 respectively; for case (h), <i>k</i> = 2-32 with <i>p</i><sub>s</sub> = 0); (i)</div>
<div class="cap" style="top:550px">shows ILES computed late-time dependence on IC wave-numbers, with different shapes and growth</div>
<div class="cap" style="top:564px">rates when using different low end ICs; (j) Effect of longest wave-length (<i>N</i><sub>min</sub>) on (a) the growth</div>
<div class="cap" style="top:579.5px;text-align:left;text-align-last:left;word-spacing:0">parameters α<sub>b,</sub><i style="font-size:10px">RC</i> and α<sub><i>c</i>,</sub><i style="font-size:10px">RC</i> that reveals <b>long wavelength ICs dominate the overall growth</b>.</div>

</body></html>
